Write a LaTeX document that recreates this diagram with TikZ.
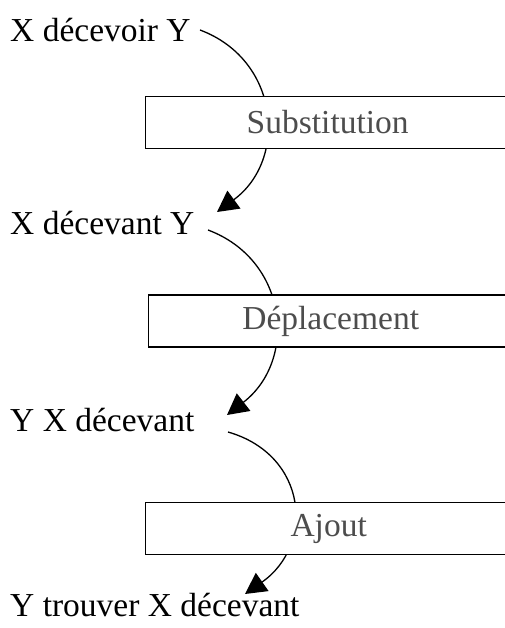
\documentclass[tikz,border=0pt]{standalone}
\usepackage{fontspec}
\setmainfont{Liberation Serif}
\usetikzlibrary{arrows.meta}
\definecolor{boxtext}{HTML}{4D4D4D}
\tikzset{
  lbl/.style={anchor=base west, inner sep=0pt, text=black, font=\fontsize{33.5}{40}\selectfont},
  opbox/.style={draw=black, line width=1.4pt, fill=white, minimum height=52pt, inner sep=0pt,
                text=boxtext, font=\fontsize{33.5}{40}\selectfont},
  flow/.style={line width=1.3pt, -{Triangle[length=21pt,width=22pt]}}
}
\begin{document}
\begin{tikzpicture}[x=1pt,y=1pt]
\useasboundingbox (0,0) rectangle (505,628);
\clip (0,0) rectangle (505,628);
% labels
\node[lbl] (l1) at (10,586) {X décevoir Y};
\node[lbl] (l2) at (10,393) {X décevant Y};
\node[lbl] (l3) at (10,196) {Y X décevant};
\node[lbl] (l4) at (10,11) {Y trouver X décevant};
% connector ends
\coordinate (s1) at (200,598);
\coordinate (e1) at (217,416);
\coordinate (s2) at (208,398);
\coordinate (e2) at (227,213);
\coordinate (s3) at (228,196);
\coordinate (e3) at (245,34);
% connectors
\draw[flow] (s1) .. controls (280,568) and (288,468) .. (e1);
\draw[flow] (s2) .. controls (288,368) and (298,268) .. (e2);
\draw[flow] (s3) .. controls (308,173) and (315,83) .. (e3);
% boxes
\node[opbox, minimum width=364pt, anchor=west] (b1) at (145,505.5) {Substitution};
\node[opbox, minimum width=364pt, anchor=west] (b2) at (148,307) {Déplacement};
\node[opbox, minimum width=366pt, anchor=west] (b3) at (145,99.5) {Ajout};
\end{tikzpicture}
\end{document}
